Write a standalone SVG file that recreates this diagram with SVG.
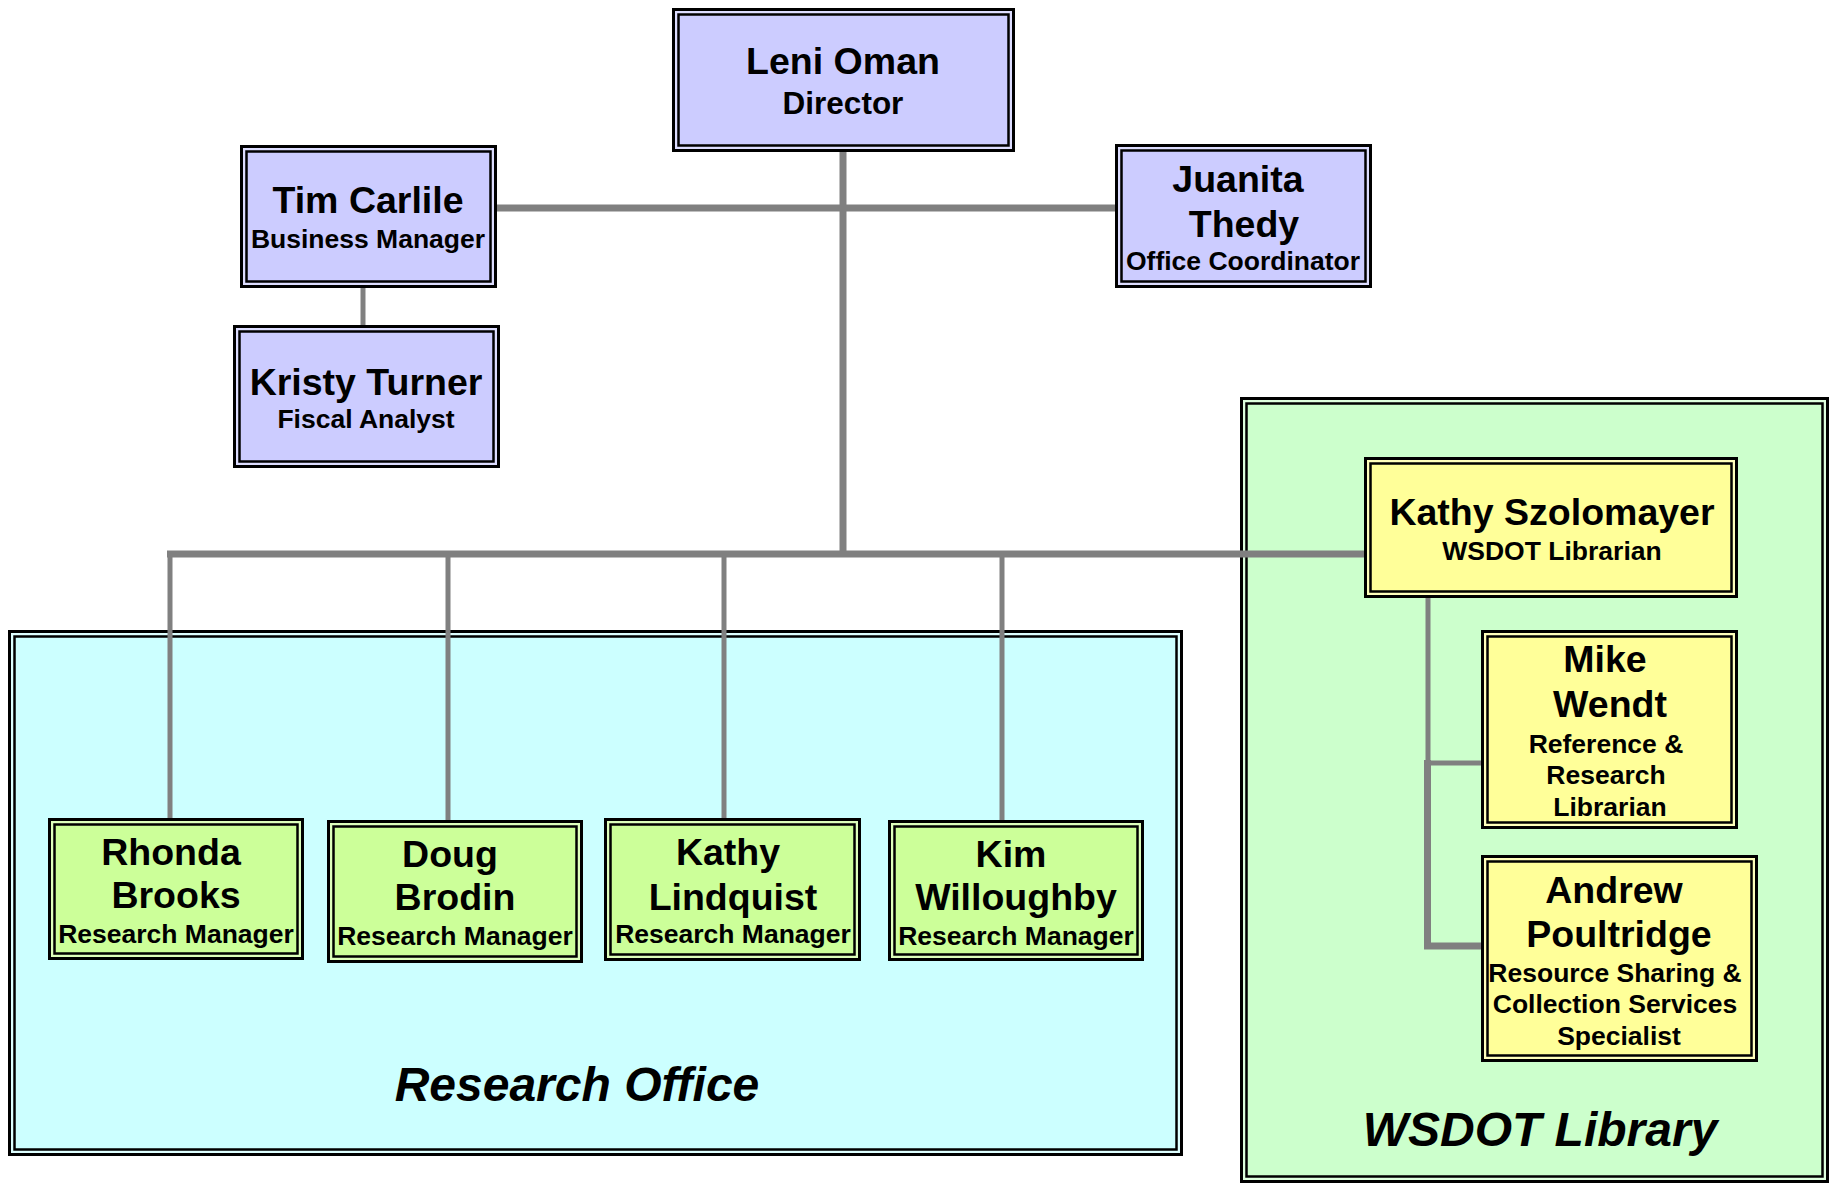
<svg xmlns="http://www.w3.org/2000/svg" width="1836" height="1183" viewBox="0 0 1836 1183">
<style>
.o{stroke:#000;stroke-width:3}
.i{stroke:#000;stroke-width:2.5}
.lav{fill:#CCCCFF}.lavg{fill:#DDDDFF}
.grn{fill:#CCFF99}.grng{fill:#DDFFBB}
.yel{fill:#FFFF99}.yelg{fill:#FFFFBB}
.cyan{fill:#CCFFFF}.cyang{fill:#DDFFFF}
.lib{fill:#CCFFCC}.libg{fill:#DDFFDD}
text{font-family:"Liberation Sans",Arial,Helvetica,sans-serif;font-weight:bold;text-anchor:middle;fill:#000}
.n{font-size:37.5px}
.t{font-size:26.5px}
.d{font-size:31.5px}
.g{font-size:48px;font-style:italic}
.c{stroke:#808080;fill:none;stroke-linecap:butt;stroke-linejoin:miter}
.w7{stroke-width:7}.w5{stroke-width:5}
</style>
<g id="research-office">
<rect class="o cyang" x="9.5" y="631.5" width="1172" height="523"/>
<rect class="i cyan" x="14.5" y="636.5" width="1162" height="513"/>
<text class="g" x="577" y="1101">Research Office</text>
</g>
<g id="wsdot-library">
<rect class="o libg" x="1241.5" y="398.5" width="586" height="783"/>
<rect class="i lib" x="1246.5" y="403.5" width="576" height="773"/>
<text class="g" x="1540" y="1146">WSDOT Library</text>
</g>
<g id="connectors">
<path class="c w7" d="M843 152 V557"/>
<path class="c w7" d="M497 208 H1115"/>
<path class="c w5" d="M363 288 V325"/>
<path class="c w7" d="M167 554 H1364"/>
<path class="c w5" d="M170 551 V818"/>
<path class="c w5" d="M448 554 V820"/>
<path class="c w5" d="M724 554 V818"/>
<path class="c w5" d="M1002 554 V820"/>
<path class="c w5" d="M1428 598 V763 H1481"/>
<path class="c w7" d="M1427.5 760 V946 H1482"/>
</g>
<g id="leni-oman">
<rect class="o lavg" x="673.5" y="9.5" width="340" height="141"/>
<rect class="i lav" x="678.5" y="14.5" width="330" height="131"/>
<text class="n" x="843" y="74">Leni Oman</text>
<text class="d" x="843" y="114">Director</text>
</g>
<g id="tim-carlile">
<rect class="o lavg" x="241.5" y="146.5" width="254" height="140"/>
<rect class="i lav" x="246.5" y="151.5" width="244" height="130"/>
<text class="n" x="368" y="213">Tim Carlile</text>
<text class="t" x="368" y="248">Business Manager</text>
</g>
<g id="kristy-turner">
<rect class="o lavg" x="234.5" y="326.5" width="264" height="140"/>
<rect class="i lav" x="239.5" y="331.5" width="254" height="130"/>
<text class="n" x="366" y="395">Kristy Turner</text>
<text class="t" x="366" y="428">Fiscal Analyst</text>
</g>
<g id="juanita-thedy">
<rect class="o lavg" x="1116.5" y="145.5" width="254" height="141"/>
<rect class="i lav" x="1121.5" y="150.5" width="244" height="131"/>
<text class="n" x="1238" y="192">Juanita</text>
<text class="n" x="1244" y="237">Thedy</text>
<text class="t" x="1243" y="270">Office Coordinator</text>
</g>
<g id="rhonda-brooks">
<rect class="o grng" x="49.5" y="819.5" width="253" height="139"/>
<rect class="i grn" x="54.5" y="824.5" width="243" height="129"/>
<text class="n" x="171" y="865">Rhonda</text>
<text class="n" x="176" y="908">Brooks</text>
<text class="t" x="176" y="943">Research Manager</text>
</g>
<g id="doug-brodin">
<rect class="o grng" x="328.5" y="821.5" width="253" height="140"/>
<rect class="i grn" x="333.5" y="826.5" width="243" height="130"/>
<text class="n" x="450" y="867">Doug</text>
<text class="n" x="455" y="910">Brodin</text>
<text class="t" x="455" y="945">Research Manager</text>
</g>
<g id="kathy-lindquist">
<rect class="o grng" x="605.5" y="819.5" width="254" height="140"/>
<rect class="i grn" x="610.5" y="824.5" width="244" height="130"/>
<text class="n" x="728" y="865">Kathy</text>
<text class="n" x="733" y="910">Lindquist</text>
<text class="t" x="733" y="943">Research Manager</text>
</g>
<g id="kim-willoughby">
<rect class="o grng" x="889.5" y="821.5" width="253" height="138"/>
<rect class="i grn" x="894.5" y="826.5" width="243" height="128"/>
<text class="n" x="1011" y="867">Kim</text>
<text class="n" x="1016" y="910">Willoughby</text>
<text class="t" x="1016" y="945">Research Manager</text>
</g>
<g id="kathy-szolomayer">
<rect class="o yelg" x="1365.5" y="458.5" width="371" height="138"/>
<rect class="i yel" x="1370.5" y="463.5" width="361" height="128"/>
<text class="n" x="1552" y="525">Kathy Szolomayer</text>
<text class="t" x="1552" y="560">WSDOT Librarian</text>
</g>
<g id="mike-wendt">
<rect class="o yelg" x="1482.5" y="631.5" width="254" height="196"/>
<rect class="i yel" x="1487.5" y="636.5" width="244" height="186"/>
<text class="n" x="1605" y="672">Mike</text>
<text class="n" x="1610" y="717">Wendt</text>
<text class="t" x="1606" y="753">Reference &amp;</text>
<text class="t" x="1606" y="784">Research</text>
<text class="t" x="1610" y="816">Librarian</text>
</g>
<g id="andrew-poultridge">
<rect class="o yelg" x="1482.5" y="856.5" width="274" height="204"/>
<rect class="i yel" x="1487.5" y="861.5" width="264" height="194"/>
<text class="n" x="1614" y="903">Andrew</text>
<text class="n" x="1619" y="947">Poultridge</text>
<text class="t" x="1615" y="982">Resource Sharing &amp;</text>
<text class="t" x="1615" y="1013">Collection Services</text>
<text class="t" x="1619" y="1045">Specialist</text>
</g>
</svg>
